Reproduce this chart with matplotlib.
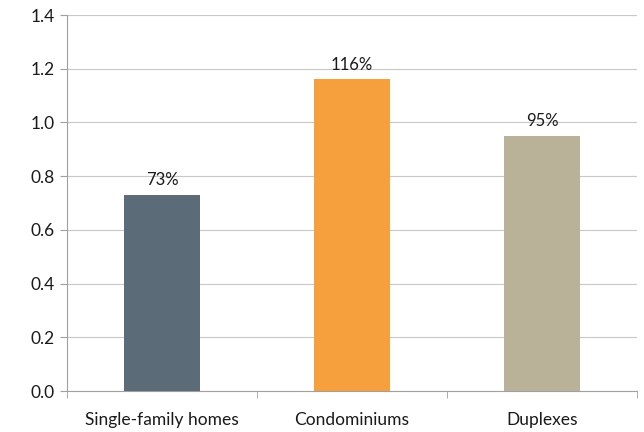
import matplotlib
matplotlib.use("Agg")
import matplotlib.pyplot as plt

categories = ["Single-family homes", "Condominiums", "Duplexes"]
values = [0.73, 1.16, 0.95]
labels = ["73%", "116%", "95%"]
colors = ["#5B6B77", "#F5A03C", "#B9B299"]
yticks = [0.0, 0.2, 0.4, 0.6, 0.8, 1.0, 1.2, 1.4]

plt.rcParams['font.family'] = ['Lato', 'DejaVu Sans']

fig = plt.figure(figsize=(6.44, 4.32), dpi=100)
ax = fig.add_axes([67/644, 41/432, 570/644, 376/432])

x = list(range(len(categories)))
bars = ax.bar(x, values, width=0.4, color=colors, zorder=3)
for xi, v, lab in zip(x, values, labels):
    ax.annotate(lab, (xi, v), xytext=(0, 5), textcoords="offset points",
                ha="center", va="bottom", fontsize=12, color="#1a1a1a")

ax.set_xlim(-0.5, len(categories) - 0.5)
ax.set_ylim(0, 1.4)
ax.set_yticks(yticks)
ax.set_yticklabels([f"{t:.1f}" for t in yticks])
ax.set_xticks(x)
ax.set_xticklabels(categories)
ax.set_xticks([i - 0.5 for i in range(len(categories) + 1)], minor=True)
ax.tick_params(axis='x', which='major', length=0, pad=15, labelsize=12.5, labelcolor="#1a1a1a")
ax.tick_params(axis='x', which='minor', length=5, color="#a0a0a0", direction='out')
ax.tick_params(axis='y', length=5, color="#a0a0a0", labelsize=12.5, labelcolor="#1a1a1a", pad=4)

ax.grid(axis='y', color="#c8c8c8", linewidth=0.8, zorder=0)
for s in ['top', 'right']:
    ax.spines[s].set_visible(False)
for s in ['left', 'bottom']:
    ax.spines[s].set_color("#a0a0a0")
    ax.spines[s].set_linewidth(0.8)

fig.savefig("out.png", dpi=100)
